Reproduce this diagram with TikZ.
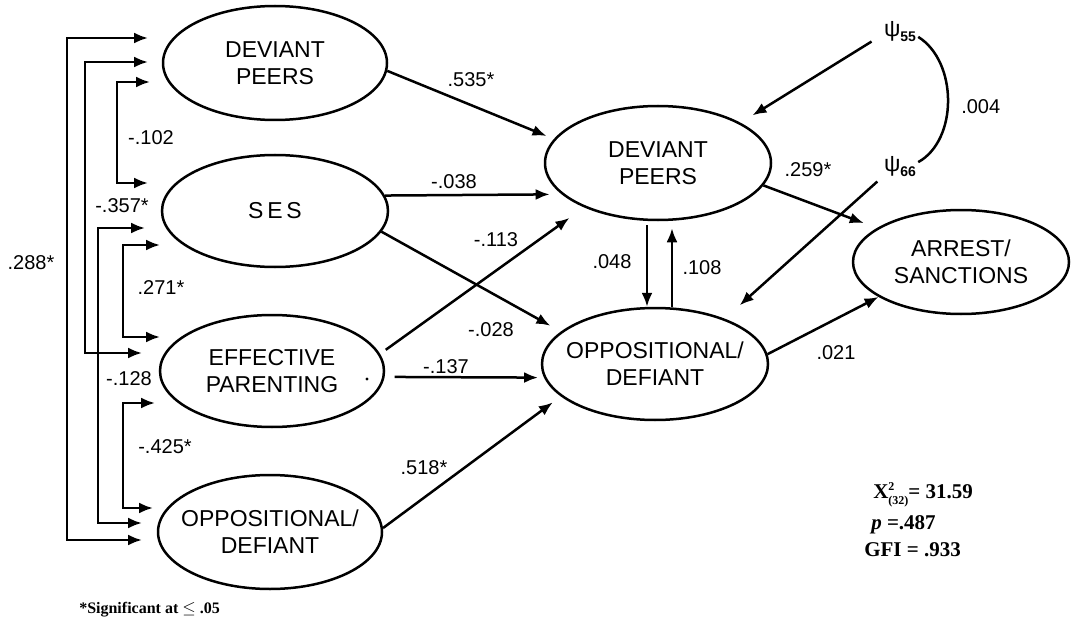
\documentclass[tikz,border=0pt]{standalone}
\usepackage{fontspec}
\setmainfont{Liberation Sans}
\newfontfamily\statfont{Liberation Serif}
\usetikzlibrary{arrows.meta,shapes.geometric}
\begin{document}
\begin{tikzpicture}[x=1pt,y=-1pt,line width=2.5pt,
  var/.style={draw,ellipse,inner sep=0pt},
  vtext/.style={align=center,font=\fontsize{23}{27}\selectfont,inner sep=0pt},
  arr/.style={-{Latex[length=14pt,width=11pt]}},
  dbl/.style={{Latex[length=14pt,width=11pt]}-{Latex[length=14pt,width=11pt]}},
  lab/.style={font=\fontsize{20}{22}\selectfont,inner sep=0pt},
  psi/.style={inner sep=1pt,font=\fontsize{23}{23}\selectfont},
  stat/.style={font=\statfont\bfseries\fontsize{21}{22}\selectfont,anchor=west,inner sep=0pt}]
\useasboundingbox (0,0) rectangle (1071,623);
% left variables
\node[var,minimum width=224pt,minimum height=114pt,label={[vtext]center:{DEVIANT\\PEERS}}] (L1) at (275,63) {};
\node[var,minimum width=226pt,minimum height=112pt,label={[vtext]center:{S\,E\,S}}] (L2) at (275,211) {};
\node[var,minimum width=224pt,minimum height=112pt,label={[vtext]center:{EFFECTIVE\\PARENTING}}] (L3) at (272,371) {};
\node[var,minimum width=224pt,minimum height=114pt,label={[vtext]center:{OPPOSITIONAL/\\DEFIANT}}] (L4) at (270,532) {};
% middle
\node[var,minimum width=226pt,minimum height=114pt,label={[vtext]center:{DEVIANT\\PEERS}}] (M1) at (658,163) {};
\node[var,minimum width=226pt,minimum height=112pt,label={[vtext]center:{OPPOSITIONAL/\\DEFIANT}}] (M2) at (655,364) {};
% right
\node[var,minimum width=216pt,minimum height=104pt,label={[vtext]center:{ARREST/\\SANCTIONS}}] (R) at (961,262) {};
% disturbances
\node[psi] (P5) at (900,32) {ψ\raisebox{-5pt}{\fontsize{14}{14}\selectfont\bfseries 55}};
\node[psi] (P6) at (900,167) {ψ\raisebox{-5pt}{\fontsize{14}{14}\selectfont\bfseries 66}};
\node[fill,circle,inner sep=1.2pt] (dt) at (367,379) {};

% bracket tips
\coordinate (a1) at (148,38);  \coordinate (a2) at (148,62);  \coordinate (a3) at (150,82);
\coordinate (b1) at (148,183); \coordinate (b2) at (145,228); \coordinate (b3) at (160,245);
\coordinate (c1) at (160,337); \coordinate (c2) at (142,353); \coordinate (c3) at (155,403);
\coordinate (d1) at (153,508); \coordinate (d2) at (142,523); \coordinate (d3) at (142,540);
% correlations
\draw[dbl] (a1) -- (67,38) -- (67,540) -- (d3);
\draw[dbl] (a2) -- (85,62) -- (85,353) -- (c2);
\draw[dbl] (a3) -- (117,82) -- (117,183) -- (b1);
\draw[dbl] (b2) -- (98,228) -- (98,523) -- (d2);
\draw[dbl] (b3) -- (123,245) -- (123,337) -- (c1);
\draw[dbl] (c3) -- (123,403) -- (123,508) -- (d1);
\node[lab] (k1) at (31,263) {.288*};
\node[lab] (k2) at (122,206) {-.357*};
\node[lab] (k3) at (151,138) {-.102};
\node[lab] (k4) at (129,379) {-.128};
\node[lab] (k5) at (161,288) {.271*};
\node[lab] (k6) at (165,447) {-.425*};

% structural paths
\draw[arr,shorten >=8pt] (L1.-4) -- (M1.167);
\draw[arr,shorten >=12pt] (L2.8) -- (M1.198);
\draw[arr,shorten >=12pt] (L2.-11.5) -- (M2.161.6);
\draw[arr,shorten <=7pt,shorten >=18pt] (L3.9) -- (M1.211);
\draw[arr,shorten <=10pt,shorten >=6pt] (L3.-3) -- (M2.187);
\draw[arr,shorten >=10pt] (L4.2) -- (M2.199);
\draw[arr,shorten <=4pt] ([xshift=-11pt]M1.south) -- ([xshift=-8pt]M2.north);
\draw[arr,shorten >=7pt] ([xshift=17pt]M2.north) -- ([xshift=14pt]M1.south);
\draw[arr,shorten >=14pt] (M1.-12) -- (R.158.5);
\draw[arr] (M2.5) -- (R.203);
\draw[arr,shorten <=12pt,shorten >=14pt] (P5.-170) -- (M1.26);
\draw[arr,shorten <=6pt,shorten >=20pt] (P6.-150) -- (M2.33);
\draw (P5.-15) .. controls (958,62) and (958,140) .. (P6.15);

\node[lab] (l1) at (471,80) {.535*};
\node[lab] (l2) at (454,182) {-.038};
\node[lab] (l3) at (496,240) {-.113};
\node[lab] (l4) at (491,330) {-.028};
\node[lab] (l5) at (446,367) {-.137};
\node[lab] (l6) at (424,468) {.518*};
\node[lab] (l7) at (612,262) {.048};
\node[lab] (l8) at (702,268) {.108};
\node[lab] (l9) at (808,170) {.259*};
\node[lab] (l10) at (836,353) {.021};
\node[lab,anchor=west] (l11) at (960,107) {.004};

% stats
\node[stat] (s1) at (872,495) {X{\fontsize{12}{10}\selectfont\begin{tabular}[c]{@{}l@{}}2\\[3pt](32)\end{tabular}}= 31.59};
\node[stat] (s2) at (870,525) {\textit{p} =.487};
\node[stat] (s3) at (863,550) {GFI = .933};
\node[font=\statfont\bfseries\fontsize{16}{16}\selectfont,anchor=west,inner sep=0pt] (fn) at (78,610) {*Significant at $\leq$ .05};
\end{tikzpicture}
\end{document}
